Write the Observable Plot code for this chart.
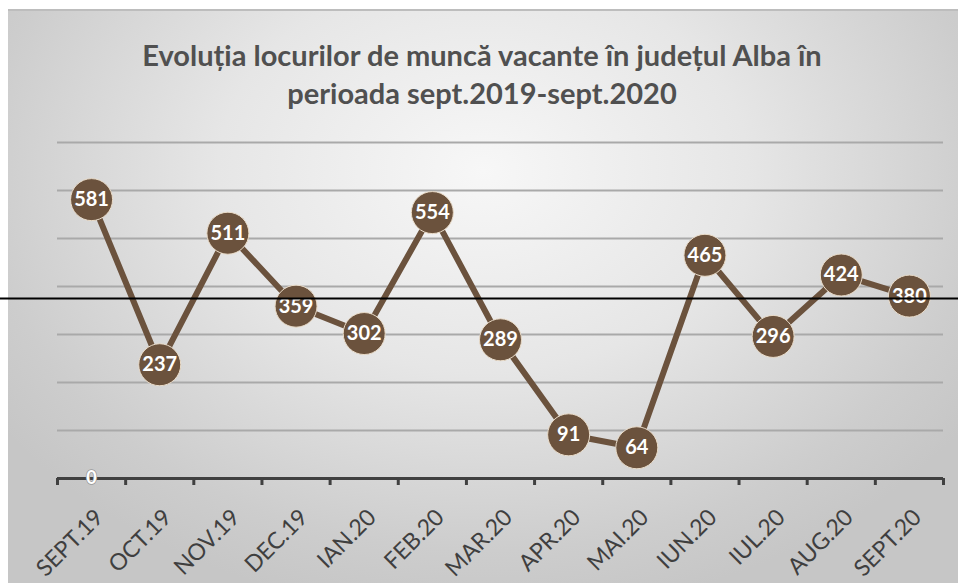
<!DOCTYPE html>
<html><head><meta charset="utf-8">
<script src="https://cdn.jsdelivr.net/npm/d3@7"></script>
<script src="https://cdn.jsdelivr.net/npm/@observablehq/plot@0.6"></script>
<style>
body{margin:0;background:#fff;}
#wrap{position:relative;width:958px;height:583px;overflow:hidden;background:#fff;}
#panel{position:absolute;left:8px;top:9px;width:950px;height:574px;
  background:radial-gradient(ellipse 62% 78% at 50% 28%, #f7f7f7 0%, #e6e6e6 45%, #cdcdcd 85%, #c6c6c6 100%);
  border-top:2px solid #bdbdbd;box-sizing:border-box;}
#title{position:absolute;left:0;top:0;width:958px;height:130px;padding-top:36px;box-sizing:border-box;
  text-align:center;font-family:Lato,sans-serif;font-weight:bold;font-size:29px;line-height:38px;color:#505050;padding-left:6px;}
#chart{position:absolute;left:0;top:130px;}
</style></head>
<body>
<div id="wrap">
  <div id="panel"></div>
  <div id="title">Evoluția locurilor de muncă vacante în județul Alba în<br>perioada sept.2019-sept.2020</div>
  <div id="chart"></div>
</div>
<script>
const months = ["SEPT.19","OCT.19","NOV.19","DEC.19","IAN.20","FEB.20","MAR.20","APR.20","MAI.20","IUN.20","IUL.20","AUG.20","SEPT.20"];
const values = [581,237,511,359,302,554,289,91,64,465,296,424,380];
const gridValues = [100,200,300,400,500,600,700];
const refLine = [375];
const zeroLabel = [0];

const idx = (d,i) => i;
const chart = Plot.plot({
  width: 958, height: 453,
  marginLeft: 57, marginRight: 15, marginTop: 12, marginBottom: 105,
  style: {fontFamily: "Lato, sans-serif", background: "transparent"},
  x: {domain: [-0.5, 12.5], axis: null},
  y: {domain: [0, 700], axis: null},
  marks: [
    Plot.ruleY(gridValues, {stroke: "#a9a9a9", strokeWidth: 2}),
    Plot.ruleY([0], {stroke: "#404040", strokeWidth: 3}),
    Plot.axisX({ticks: d3.range(-0.5, 13, 1), tickSize: 7, tickFormat: () => "", stroke: "#404040", strokeWidth: 3}),
    Plot.text(months, {x: idx, y: () => 0, text: d => d, rotate: -45, textAnchor: "end", lineAnchor: "middle", dx: 8, dy: 35, fontSize: 23, fill: "#3f3f3f"}),
    Plot.line(values, {x: idx, y: d => d, stroke: "#6b523d", strokeWidth: 6}),
    Plot.dot(values, {x: idx, y: d => d, r: 21, fill: "#6b523d", stroke: "#eadcc9", strokeWidth: 1}),
    Plot.text(values, {x: idx, y: d => d, text: d => String(d), fill: "white", fontWeight: "bold", fontSize: 20}),
    Plot.text(zeroLabel, {x: (d,i) => i, y: d => d, text: d => String(d), fill: "white", stroke: "#999", strokeWidth: 1.5, paintOrder: "stroke", fontWeight: "bold", fontSize: 18}),
    Plot.ruleY(refLine, {stroke: "black", strokeWidth: 2, insetLeft: -57, insetRight: -15})
  ]
});
document.getElementById("chart").appendChild(chart);
</script>
</body></html>
